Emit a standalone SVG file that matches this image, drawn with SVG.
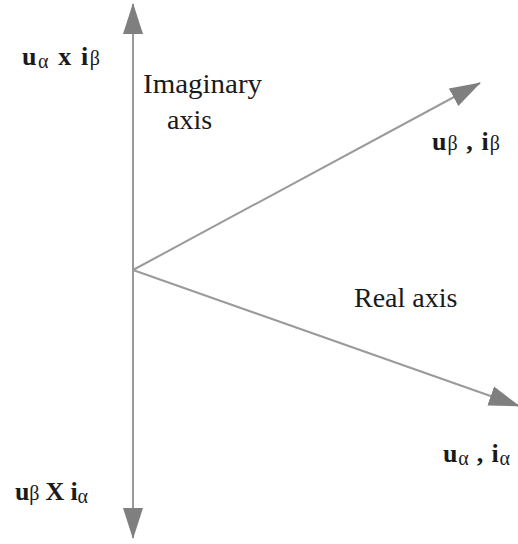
<svg xmlns="http://www.w3.org/2000/svg" width="518" height="544" viewBox="0 0 518 544">
<style>
.ax{stroke:#9a9a9a;stroke-width:2;fill:none}
.t{font-family:"Liberation Serif","Times New Roman",serif;fill:#1a1a1a}
.r{font-size:28px}
.b{font-size:26px;font-weight:bold}
.s{font-size:20px;font-weight:normal}
</style>
<defs>
<marker id="ah" markerUnits="userSpaceOnUse" markerWidth="32" markerHeight="22" viewBox="0 0 32 22" refX="30" refY="11" orient="auto">
<path d="M0,1 L31,11 L0,21 Z" fill="#7f7f7f"/>
</marker>
</defs>
<g id="connectors">
<line class="ax" x1="133" y1="270" x2="133" y2="4" marker-end="url(#ah)"/>
<line class="ax" x1="133" y1="270" x2="133" y2="538" marker-end="url(#ah)"/>
<line class="ax" x1="133" y1="270" x2="480" y2="83" marker-end="url(#ah)"/>
<line class="ax" x1="133" y1="270" x2="519" y2="406" marker-end="url(#ah)"/>
</g>
<g id="label-imag">
<text class="t r" x="143" y="93" textLength="119" lengthAdjust="spacingAndGlyphs">Imaginary</text>
<text class="t r" x="167" y="129">axis</text>
</g>
<g id="label-real">
<text class="t r" x="354" y="307">Real axis</text>
</g>
<g id="label-ua-x-ib">
<text class="t b" x="22" y="65" textLength="78" lengthAdjust="spacing">u<tspan class="s" dy="3">α</tspan><tspan dy="-3"> x i</tspan><tspan class="s">β</tspan></text>
</g>
<g id="label-ub-ib">
<text class="t b" x="432" y="150" textLength="68" lengthAdjust="spacing">u<tspan class="s">β</tspan><tspan> , i</tspan><tspan class="s">β</tspan></text>
</g>
<g id="label-ua-ia">
<text class="t b" x="443" y="462" textLength="67" lengthAdjust="spacing">u<tspan class="s" dy="3">α</tspan><tspan dy="-3"> , i</tspan><tspan class="s" dy="3">α</tspan></text>
</g>
<g id="label-ub-x-ia">
<text class="t b" x="15" y="500" textLength="73" lengthAdjust="spacing">u<tspan class="s">β</tspan><tspan> X i</tspan><tspan class="s" dy="3">α</tspan></text>
</g>
</svg>
